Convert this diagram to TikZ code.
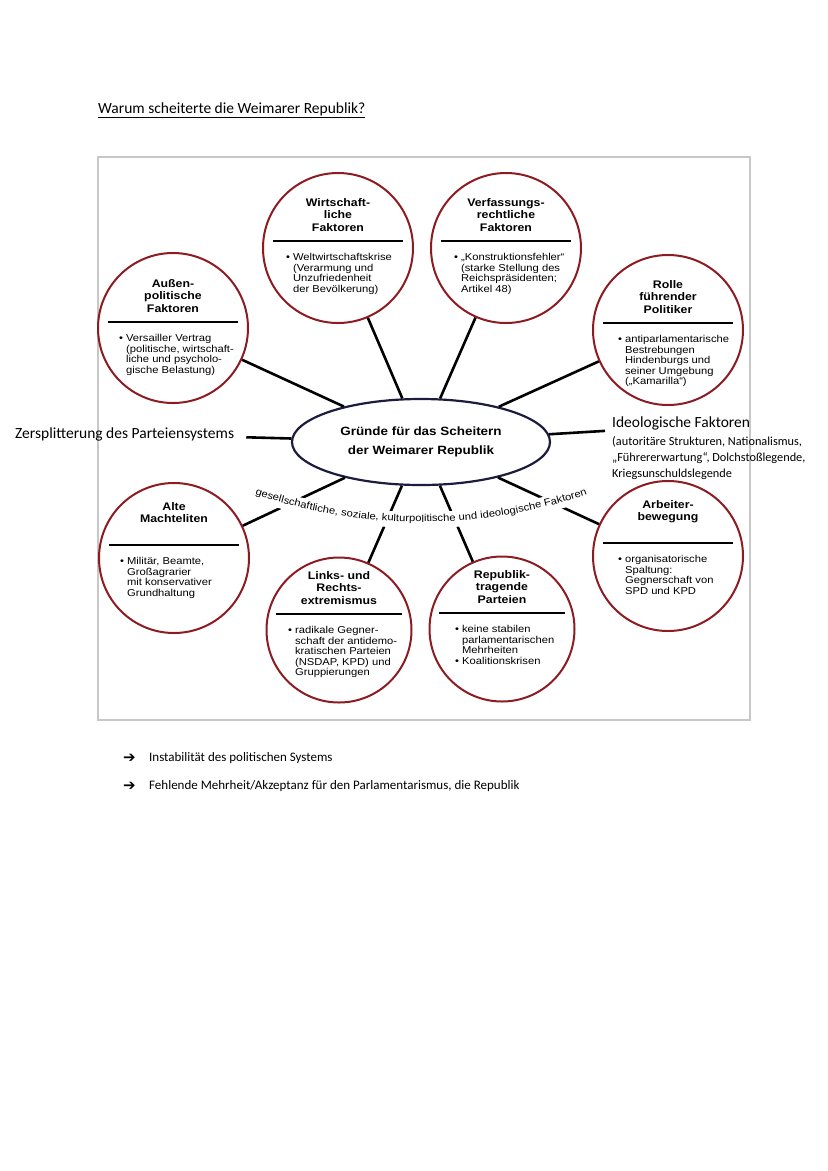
\documentclass[tikz,border=0pt]{standalone}
\usepackage{fontspec}
\setmainfont{Carlito}
\newfontfamily\arialfont[FakeStretch=1.12]{Liberation Sans}
\newfontfamily\symbolfont{DejaVu Sans}
\usetikzlibrary{positioning,shapes.geometric,decorations.text}

\definecolor{circlered}{RGB}{140,28,34}
\definecolor{ellipseblue}{RGB}{28,28,62}
\definecolor{framegray}{RGB}{200,200,200}

\begin{document}
\begin{tikzpicture}[x=1pt, y=1pt, node distance = 0pt,
FactorStyle/.style={draw=circlered, line width=2pt, circle, minimum size=150pt,
                inner sep=0pt},
CenterStyle/.style={draw=ellipseblue, line width=2.2pt, ellipse, minimum width=258pt,
                minimum height=86pt, inner sep=0pt, align=center,
                font=\arialfont\bfseries\fontsize{12}{19}\selectfont},
TitleStyle/.style={anchor=north, inner sep=0pt, align=center,
                font=\arialfont\bfseries\fontsize{11}{12.5}\selectfont,
                execute at begin node=\strut},
BodyStyle/.style={anchor=north west, inner sep=0pt,
                font=\arialfont\fontsize{10}{10.5}\selectfont},
RuleStyle/.style={line width=1.5pt},
LinkStyle/.style={line width=2.6pt},
NoteStyle/.style={inner sep=0pt, font=\fontsize{15.5}{18}\selectfont},
SmallNoteStyle/.style={inner sep=0pt, align=left, font=\fontsize{12.3}{16}\selectfont},
ResultStyle/.style={inner sep=0pt, anchor=west, font=\fontsize{13}{16}\selectfont},
ArrowStyle/.style={inner sep=0pt, font=\symbolfont\bfseries\fontsize{15}{16}\selectfont},]
\useasboundingbox (0,0) rectangle (828,-1171);

\node [NoteStyle, anchor=base west] (title) at (98,-113)
  {\underline{Warum scheiterte die Weimarer Republik?}};
\draw [framegray, line width=1.2pt] (98,-157) rectangle (750,-720);

\node [CenterStyle] (cen) at (421,-442) {Gründe für das Scheitern\\der Weimarer Republik};

% obere Reihe
\node [FactorStyle] (w) at (338,-248) {};
\coordinate [above=7pt of w.center] (wr);
\draw [RuleStyle] ([xshift=-65pt]wr) -- ([xshift=65pt]wr);
\node [TitleStyle] (wt) at ([yshift=42.8pt]wr) {Wirtschaft-\\liche\\Faktoren};
\node [BodyStyle] (wb) at ([xshift=-52pt, yshift=-12.25pt]wr)
  {\begin{tabular}{@{}l@{\hspace{3pt}}l@{}}\textbullet & Weltwirtschaftskrise\\
   & (Verarmung und\\ & Unzufriedenheit\\ & der Bevölkerung)\end{tabular}};

\node [FactorStyle] (v) at (506,-248) {};
\coordinate [above=7pt of v.center] (vr);
\draw [RuleStyle] ([xshift=-65pt]vr) -- ([xshift=65pt]vr);
\node [TitleStyle] (vt) at ([yshift=42.8pt]vr) {Verfassungs-\\rechtliche\\Faktoren};
\node [BodyStyle] (vb) at ([xshift=-52pt, yshift=-12.25pt]vr)
  {\begin{tabular}{@{}l@{\hspace{3pt}}l@{}}\textbullet & „Konstruktionsfehler“\\
   & (starke Stellung des\\ & Reichspräsidenten;\\ & Artikel 48)\end{tabular}};

\node [FactorStyle] (a) at (173,-328) {};
\coordinate [above=6pt of a.center] (ar);
\draw [RuleStyle] ([xshift=-65pt]ar) -- ([xshift=65pt]ar);
\node [TitleStyle] (at) at ([yshift=42.8pt]ar) {Außen-\\politische\\Faktoren};
\node [BodyStyle] (ab) at ([xshift=-54pt, yshift=-12.25pt]ar)
  {\begin{tabular}{@{}l@{\hspace{3pt}}l@{}}\textbullet & Versailler Vertrag\\
   & (politische, wirtschaft-\\ & liche und psycholo-\\ & gische Belastung)\end{tabular}};

\node [FactorStyle] (r) at (668,-330) {};
\coordinate [above=7pt of r.center] (rr);
\draw [RuleStyle] ([xshift=-65pt]rr) -- ([xshift=65pt]rr);
\node [TitleStyle] (rt) at ([yshift=42.8pt]rr) {Rolle\\führender\\Politiker};
\node [BodyStyle] (rb) at ([xshift=-50pt, yshift=-12.25pt]rr)
  {\begin{tabular}{@{}l@{\hspace{3pt}}l@{}}\textbullet & antiparlamentarische\\
   & Bestrebungen\\ & Hindenburgs und\\ & seiner Umgebung\\ & („Kamarilla“)\end{tabular}};

% untere Reihe
\node [FactorStyle] (m) at (174,-558) {};
\coordinate [above=13pt of m.center] (mr);
\draw [RuleStyle] ([xshift=-65pt]mr) -- ([xshift=65pt]mr);
\node [TitleStyle] (mt) at ([yshift=42.8pt]mr) {Alte\\Machteliten};
\node [BodyStyle] (mb) at ([xshift=-54pt, yshift=-12.25pt]mr)
  {\begin{tabular}{@{}l@{\hspace{3pt}}l@{}}\textbullet & Militär, Beamte,\\
   & Großagrarier\\ & mit konservativer\\ & Grundhaltung\end{tabular}};

\node [FactorStyle] (b) at (668,-556) {};
\coordinate [above=13pt of b.center] (br);
\draw [RuleStyle] ([xshift=-65pt]br) -- ([xshift=65pt]br);
\node [TitleStyle] (bt) at ([yshift=42.8pt]br) {Arbeiter-\\bewegung};
\node [BodyStyle] (bb) at ([xshift=-50pt, yshift=-12.25pt]br)
  {\begin{tabular}{@{}l@{\hspace{3pt}}l@{}}\textbullet & organisatorische\\
   & Spaltung:\\ & Gegnerschaft von\\ & SPD und KPD\end{tabular}};

\node [FactorStyle, minimum size=145pt] (x) at (339,-630) {};
\coordinate [above=16pt of x.center] (xr);
\draw [RuleStyle] ([xshift=-63pt]xr) -- ([xshift=63pt]xr);
\node [TitleStyle] (xt) at ([yshift=42.8pt]xr) {Links- und\\Rechts-\\extremismus};
\node [BodyStyle] (xb) at ([xshift=-51pt, yshift=-12.25pt]xr)
  {\begin{tabular}{@{}l@{\hspace{3pt}}l@{}}\textbullet & radikale Gegner-\\
   & schaft der antidemo-\\ & kratischen Parteien\\ & (NSDAP, KPD) und\\ & Gruppierungen\end{tabular}};

\node [FactorStyle, minimum size=145pt] (p) at (502,-629) {};
\coordinate [above=16pt of p.center] (pr);
\draw [RuleStyle] ([xshift=-63pt]pr) -- ([xshift=63pt]pr);
\node [TitleStyle] (pt) at ([yshift=42.8pt]pr) {Republik-\\tragende\\Parteien};
\node [BodyStyle] (pb) at ([xshift=-47pt, yshift=-12.25pt]pr)
  {\begin{tabular}{@{}l@{\hspace{3pt}}l@{}}\textbullet & keine stabilen\\
   & parlamentarischen\\ & Mehrheiten\\ \textbullet & Koalitionskrisen\end{tabular}};

% Ergaenzungen
\node [NoteStyle, anchor=west] (zers) at (15,-434) {Zersplitterung des Parteiensystems};
\node [NoteStyle, anchor=base west] (ideo) at (612,-427) {Ideologische Faktoren};
\node [SmallNoteStyle, below right=9pt and 0pt of ideo.base west] (ideosub)
  {(autoritäre Strukturen, Nationalismus,\\„Führererwartung“, Dolchstoßlegende,\\Kriegsunschuldslegende};
\coordinate [left=7pt of ideo.south west] (ideoend);

% Verbindungen
\draw [LinkStyle] (cen) -- (a);
\draw [LinkStyle] (cen) -- (w);
\draw [LinkStyle] (cen) -- (v);
\draw [LinkStyle] (cen) -- (r);
\draw [LinkStyle] (cen) -- (m);
\draw [LinkStyle] (cen) -- (x);
\draw [LinkStyle] (cen) -- (p);
\draw [LinkStyle] (cen) -- (b);
\draw [LinkStyle, shorten <=12pt] (zers) -- (cen);
\draw [LinkStyle] (cen) -- ([yshift=-1pt]ideoend);

% Bogenschrift
\draw [white, line width=16pt] (421,-10) ++(252:510pt) arc [start angle=252, end angle=289, radius=510pt];
\path [decorate, decoration={text along path, text align=center,
  text={|\arialfont\fontsize{10}{12}\selectfont|gesellschaftliche, soziale, kulturpolitische und ideologische Faktoren}}]
  (421,-10) ++(245:512pt) arc [start angle=245, end angle=295, radius=512pt];

% Folgerungen
\node [ResultStyle] (f1) at (149,-758) {Instabilität des politischen Systems};
\node [ResultStyle] (f2) at (149,-786) {Fehlende Mehrheit/Akzeptanz für den Parlamentarismus, die Republik};
\node [ArrowStyle, left=13pt of f1] (a1) {➔};
\node [ArrowStyle, left=13pt of f2] (a2) {➔};
\end{tikzpicture}
\end{document}
